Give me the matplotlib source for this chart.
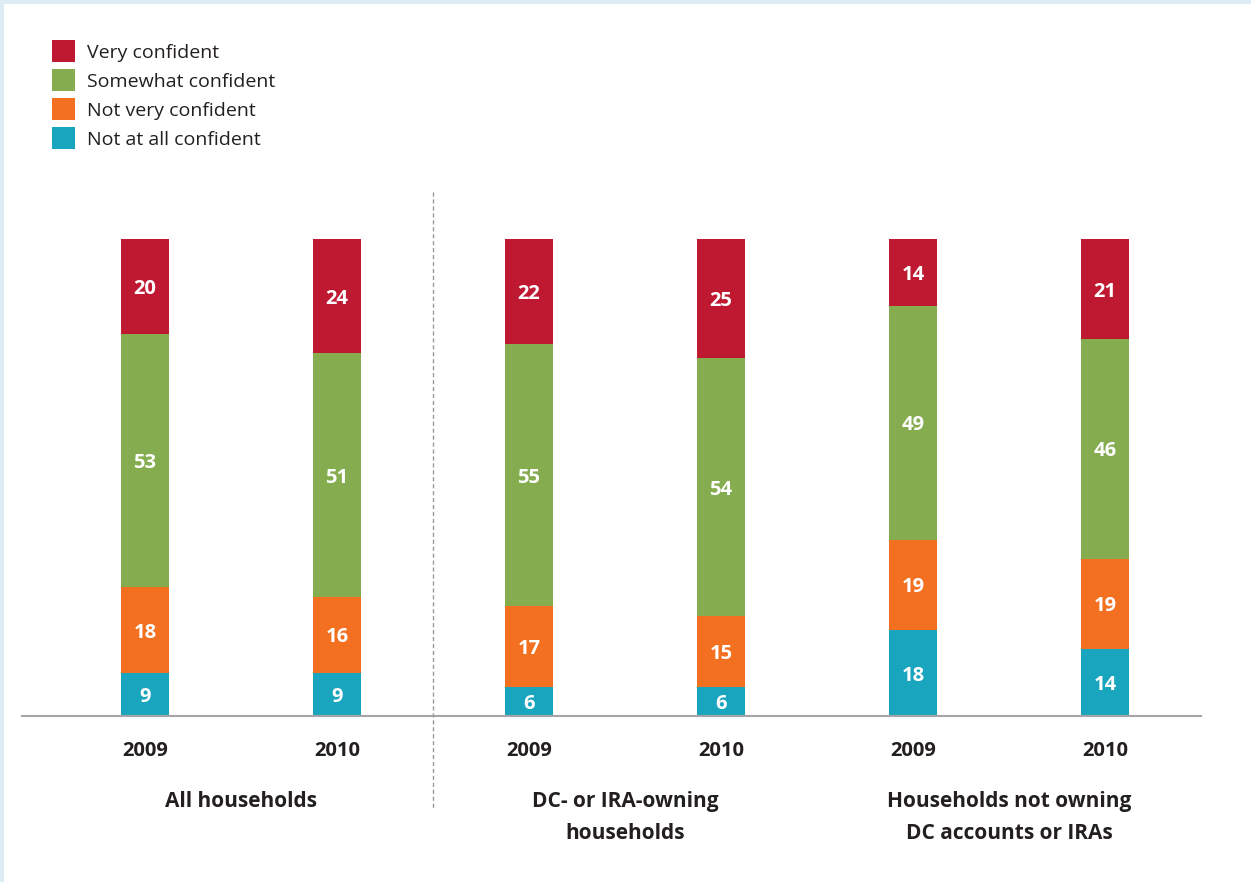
import matplotlib
matplotlib.use("Agg")
import matplotlib.pyplot as plt
from matplotlib.patches import Rectangle
import numpy as np

# survey shares (%), bottom segment first
years = ["2009", "2010", "2009", "2010", "2009", "2010"]
groups = ["All households", "DC- or IRA-owning\nhouseholds", "Households not owning\nDC accounts or IRAs"]
not_at_all = [9, 9, 6, 6, 18, 14]
not_very = [18, 16, 17, 15, 19, 19]
somewhat = [53, 51, 55, 54, 49, 46]
very = [20, 24, 22, 25, 14, 21]

series = [
    ("Not at all confident", not_at_all, "#1aa5bf"),
    ("Not very confident", not_very, "#f37021"),
    ("Somewhat confident", somewhat, "#86ac50"),
    ("Very confident", very, "#be1931"),
]

W, H = 1251, 882
plt.rcParams["font.family"] = ["Open Sans", "DejaVu Sans"]
TXT = "#231f20"

fig = plt.figure(figsize=(W / 100, H / 100), dpi=100)
fig.patch.set_facecolor("white")

def fx(px):
    return px / W

def fy(py):
    return 1 - py / H

# thin pale frame along top and left edges
fig.add_artist(Rectangle((0, fy(4)), 1, 4 / H, transform=fig.transFigure, color="#deedf4", lw=0))
fig.add_artist(Rectangle((0, 0), 4 / W, 1, transform=fig.transFigure, color="#deedf4", lw=0))

ax = fig.add_axes([fx(22), fy(716), fx(1201 - 22), (716 - 239) / H])
ax.set_xlim((22 - 145) / 192, (1201 - 145) / 192)
ax.set_ylim(0, 100)
ax.axis("off")
ax.axhline(0, color="#a6a6a6", lw=1.5, clip_on=False)

x = np.arange(len(years))
bottom = np.zeros(len(years))
for name, vals, col in series:
    vals = np.array(vals)
    ax.bar(x, vals, width=0.25, bottom=bottom, color=col, lw=0)
    for xi, b, v in zip(x, bottom, vals):
        ax.text(xi, b + v / 2, str(v), ha="center", va="center_baseline", color="white",
                fontsize=14.5, fontweight="bold")
    bottom += vals

for xi, yr in zip(x, years):
    fig.text(fx(145 + 192 * xi), fy(749), yr, ha="center", va="center_baseline",
             fontsize=14.5, fontweight="bold", color=TXT)

for gi, g in enumerate(groups):
    cx = 145 + 192 * (2 * gi + 0.5)
    fig.text(fx(cx), fy(791), g, ha="center", va="top", fontsize=15,
             fontweight="bold", color=TXT, linespacing=1.7)

# divider between all households and the owner groups
fig.add_artist(plt.Line2D([fx(433), fx(433)], [fy(192), fy(810)], transform=fig.transFigure,
                          color="#9a9a9a", lw=1, ls=(0, (3, 2))))

# legend, top entry first
for i, (name, vals, col) in enumerate(reversed(series)):
    yc = 51 + 29 * i
    fig.add_artist(Rectangle((fx(52), fy(yc + 11)), 23 / W, 22 / H, transform=fig.transFigure,
                             color=col, lw=0))
    fig.text(fx(87), fy(yc), name, ha="left", va="center_baseline", fontsize=14, color=TXT)

fig.savefig("out.png", dpi=100, facecolor="white")
